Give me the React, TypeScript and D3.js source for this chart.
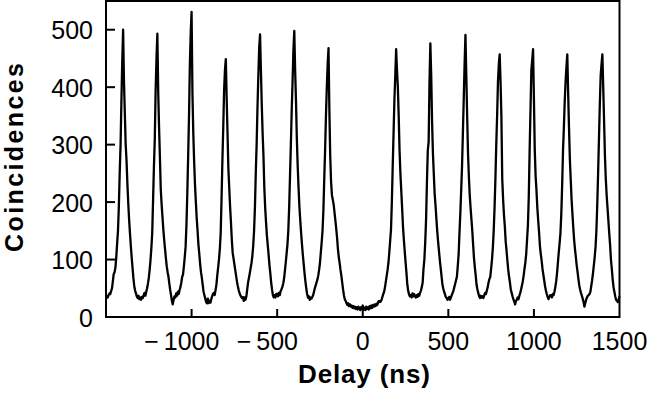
import * as d3 from 'd3'

// Coincidence histogram vs. delay, drawn with plain JSX + d3 scales.
const W = 651
const H = 394
const LEFT = 106
const RIGHT = 619.5
const TOP = 1
const BOTTOM = 317

const FONT = '"Liberation Sans", Arial, Helvetica, sans-serif'

// histogram bins: 5 ns wide, starting at -1500 ns
const BIN_NS = 5
const START_NS = -1500

// -1500 ... -105 ns  (side peaks at -1400, -1200, ..., -200)
const COUNTS_NEG = [
  32, 36, 34, 38, 41, 40, 45, 50, 62, 75, 78, 86, 104, 128, 150, 192, 250, 298, 375, 445,
  500, 410, 355, 300, 272, 232, 198, 170, 146, 124, 104, 86, 68, 54, 46, 41, 36, 33, 37, 31,
  34, 30, 35, 33, 38, 42, 37, 44, 50, 58, 68, 82, 99, 120, 146, 203, 262, 310, 395, 450,
  493, 392, 330, 278, 222, 196, 174, 152, 134, 118, 102, 88, 78, 70, 58, 47, 38, 28, 22, 30,
  36, 34, 41, 37, 44, 40, 47, 52, 60, 70, 74, 88, 104, 122, 160, 215, 280, 350, 440, 495,
  531, 390, 320, 270, 230, 200, 172, 150, 126, 110, 92, 78, 68, 56, 44, 38, 32, 26, 24, 32,
  24, 28, 25, 31, 36, 40, 42, 38, 47, 56, 72, 86, 100, 118, 146, 205, 272, 330, 395, 430,
  449, 380, 320, 258, 225, 192, 165, 135, 112, 102, 92, 82, 72, 62, 54, 47, 42, 38, 35, 33,
  35, 28, 34, 30, 36, 48, 60, 68, 76, 85, 94, 106, 124, 150, 190, 250, 300, 365, 420, 470,
  492, 430, 370, 320, 280, 225, 190, 165, 142, 125, 108, 90, 76, 60, 48, 38, 34, 38, 34, 40,
  40, 36, 42, 38, 45, 48, 52, 58, 66, 80, 94, 110, 126, 150, 190, 245, 300, 360, 410, 465,
  498, 430, 375, 310, 262, 225, 192, 168, 146, 126, 108, 92, 76, 62, 50, 40, 34, 36, 30, 34,
  32, 35, 38, 44, 50, 55, 60, 65, 72, 82, 94, 112, 130, 150, 185, 240, 290, 350, 400, 440,
  468, 360, 280, 235, 212, 204, 196, 182, 168, 154, 138, 118, 104, 94, 82, 72, 60, 48, 38, 31,
]

// -100 ... 95 ns  (no peak at zero delay)
const COUNTS_ZERO = [
  28, 24, 21, 24, 19, 22, 18, 20, 16, 19, 15, 18, 14, 17, 13, 18, 15, 12, 17, 14,
  20, 13, 16, 12, 18, 14, 17, 13, 19, 15, 20, 16, 21, 18, 22, 19, 23, 21, 26, 28,
]

// 100 ... 1500 ns  (side peaks at 200, 400, ..., 1400)
const COUNTS_POS = [
  26, 27, 30, 35, 40, 44, 52, 62, 72, 82, 94, 112, 132, 152, 200, 262, 320, 378, 420, 466,
  430, 400, 350, 290, 250, 220, 190, 158, 135, 115, 96, 78, 58, 46, 40, 36, 38, 34, 41, 36,
  40, 36, 34, 38, 35, 40, 37, 42, 46, 52, 60, 84, 100, 130, 170, 235, 290, 305, 410, 476,
  420, 340, 285, 250, 215, 195, 172, 150, 132, 116, 100, 86, 72, 58, 50, 44, 40, 35, 33, 30,
  32, 35, 30, 34, 38, 42, 46, 52, 58, 64, 70, 88, 108, 146, 180, 220, 262, 320, 380, 440,
  491, 420, 350, 285, 245, 212, 190, 170, 150, 125, 102, 86, 72, 56, 48, 42, 36, 33, 37, 34,
  36, 33, 38, 42, 40, 46, 52, 60, 66, 70, 84, 100, 120, 150, 190, 240, 300, 350, 410, 440,
  457, 410, 350, 240, 205, 178, 158, 132, 116, 98, 82, 70, 60, 48, 42, 36, 31, 27, 22, 28,
  30, 34, 31, 37, 42, 48, 55, 62, 72, 84, 95, 110, 135, 160, 210, 290, 360, 430, 447, 466,
  380, 290, 245, 220, 190, 168, 148, 124, 110, 98, 84, 74, 64, 54, 46, 40, 35, 31, 35, 38,
  38, 34, 40, 38, 44, 52, 62, 76, 94, 112, 128, 146, 180, 230, 290, 330, 375, 410, 435, 457,
  390, 330, 275, 240, 205, 180, 156, 134, 118, 104, 90, 78, 66, 55, 48, 42, 37, 32, 26, 18,
  24, 30, 34, 37, 38, 40, 44, 54, 64, 76, 90, 104, 122, 150, 195, 250, 310, 370, 420, 440,
  457, 400, 340, 280, 240, 212, 190, 168, 146, 126, 100, 84, 66, 52, 44, 36, 30, 28, 26, 30,
  36,
]

const X_TICKS = [-1000, -500, 0, 500, 1000, 1500]
const X_TICK_MARKS = [-1000, -500, 0, 500, 1000]
const Y_TICKS = [0, 100, 200, 300, 400, 500]

const COUNTS = [...COUNTS_NEG, ...COUNTS_ZERO, ...COUNTS_POS]
const TRACE: [number, number][] = COUNTS.map((c, i) => [START_NS + i * BIN_NS, c])

const x = d3.scaleLinear().domain([-1500, 1500]).range([LEFT, RIGHT])
const y = d3.scaleLinear().domain([0, 550]).range([BOTTOM, TOP])

const line = d3
  .line<[number, number]>()
  .x((d) => x(d[0]))
  .y((d) => y(d[1]))

// minus sign + thin space, digits stay centred on the tick
const fmt = (v: number) => (v < 0 ? '\u2212\u2009' + Math.abs(v) : String(v))

export default function App() {
  const tickFont = 25
  const digitW = 0.556 * tickFont

  return (
    <svg
      width={W}
      height={H}
      viewBox={`0 0 ${W} ${H}`}
      style={{ position: 'absolute', left: 0, top: 0, background: '#fff' }}
    >
      <path
        d={line(TRACE) ?? ''}
        fill="none"
        stroke="#000"
        strokeWidth={2.3}
        strokeLinejoin="round"
      />

      {/* frame */}
      <rect
        x={LEFT}
        y={TOP}
        width={RIGHT - LEFT}
        height={BOTTOM - TOP}
        fill="none"
        stroke="#000"
        strokeWidth={2}
      />

      {/* inward ticks */}
      {Y_TICKS.map((v) => (
        <line key={'yt' + v} x1={LEFT} x2={LEFT + 9} y1={y(v)} y2={y(v)} stroke="#000" strokeWidth={2} />
      ))}
      {X_TICK_MARKS.map((v) => (
        <line key={'xt' + v} x1={x(v)} x2={x(v)} y1={BOTTOM} y2={BOTTOM - 8} stroke="#000" strokeWidth={2} />
      ))}

      {/* tick labels */}
      {Y_TICKS.map((v) => (
        <text
          key={'yl' + v}
          x={93}
          y={y(v) + 9.5}
          textAnchor="end"
          fontFamily={FONT}
          fontSize={tickFont}
          fill="#000"
        >
          {v}
        </text>
      ))}
      {X_TICKS.map((v) => {
        const half = (String(Math.abs(v)).length * digitW) / 2
        return (
          <text
            key={'xl' + v}
            x={x(v) + half}
            y={350}
            textAnchor="end"
            fontFamily={FONT}
            fontSize={tickFont}
            fill="#000"
          >
            {fmt(v)}
          </text>
        )
      })}

      {/* axis titles */}
      <text
        x={364}
        y={383}
        textAnchor="middle"
        fontFamily={FONT}
        fontWeight="bold"
        fontSize={26}
        textLength={132}
        lengthAdjust="spacing"
        fill="#000"
      >
        Delay (ns)
      </text>
      <text
        transform="translate(23,157.5) rotate(-90)"
        textAnchor="middle"
        fontFamily={FONT}
        fontWeight="bold"
        fontSize={25}
        textLength={189}
        lengthAdjust="spacing"
        fill="#000"
      >
        Coincidences
      </text>
    </svg>
  )
}
